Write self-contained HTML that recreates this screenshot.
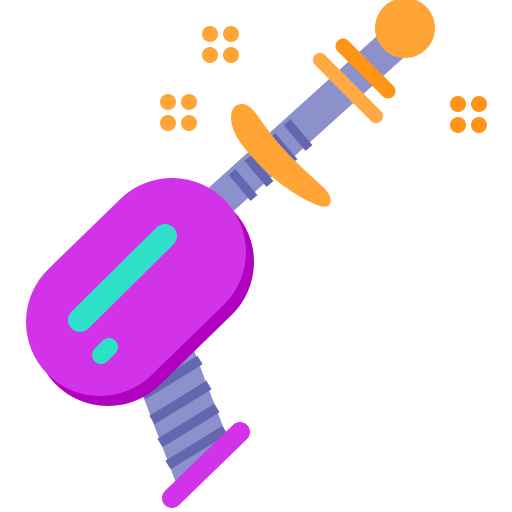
<!DOCTYPE html>
<html><head><meta charset="utf-8"><style>html,body{margin:0;padding:0;background:#fff}svg{display:block}</style></head>
<body>
<svg width="512" height="512" viewBox="0 0 512 512">
  <g fill="#FFA537">
    <circle cx="210" cy="34" r="8"/><circle cx="231" cy="34" r="8"/><circle cx="210" cy="55" r="8"/><circle cx="231" cy="55" r="8"/>
  </g>
  <g fill="#FFA537">
    <circle cx="168" cy="102" r="8"/><circle cx="189" cy="102" r="8"/><circle cx="168" cy="123" r="8"/><circle cx="189" cy="123" r="8"/>
  </g>
  <g fill="#FF9419">
    <circle cx="458" cy="104" r="8"/><circle cx="479" cy="104" r="8"/><circle cx="458" cy="125" r="8"/><circle cx="479" cy="125" r="8"/>
  </g>
  <line x1="215" y1="205" x2="400" y2="38" stroke="#8C91CC" stroke-width="34"/>
  <g stroke="#6466B0" stroke-width="9">
    <line x1="232" y1="172" x2="254" y2="198"/>
    <line x1="248" y1="158" x2="270" y2="184"/>
    <line x1="272" y1="136" x2="294" y2="162"/>
    <line x1="287" y1="122" x2="309" y2="148"/>
  </g>
  <circle cx="405" cy="28" r="30" fill="#FFA537"/>
  <line x1="343" y1="46" x2="388" y2="91" stroke="#FF9419" stroke-width="15" stroke-linecap="round"/>
  <line x1="320" y1="60" x2="376" y2="116" stroke="#FFAA44" stroke-width="14" stroke-linecap="round"/>
  <path d="M240 104 C228 106 228 125 240 142 C260 170 292 196 320 206 C334 210 334 196 322 186 C300 166 280 148 262 122 C254 110 248 103 240 104 Z" fill="#FFA537"/>
  <path d="M135 375 L190 340 L232 450 L178 488 Z" fill="#8C91CC"/>
  <g stroke="#6466B0" stroke-width="10">
    <line x1="143" y1="395" x2="200" y2="360"/>
    <line x1="152" y1="420" x2="209" y2="385"/>
    <line x1="160" y1="443" x2="217" y2="408"/>
    <line x1="168" y1="465" x2="225" y2="430"/>
  </g>
  <line x1="172" y1="498" x2="240" y2="432" stroke="#D232E8" stroke-width="20" stroke-linecap="round"/>
  <line x1="108" y1="332" x2="180" y2="262" stroke="#B000C0" stroke-width="148" stroke-linecap="round"/>
  <line x1="100" y1="322" x2="172" y2="252" stroke="#D232E8" stroke-width="148" stroke-linecap="round"/>
  <line x1="80" y1="320" x2="165" y2="236" stroke="#2EE0C8" stroke-width="24" stroke-linecap="round"/>
  <line x1="101" y1="355" x2="109" y2="347" stroke="#2EE0C8" stroke-width="18" stroke-linecap="round"/>
</svg>
</body></html>
